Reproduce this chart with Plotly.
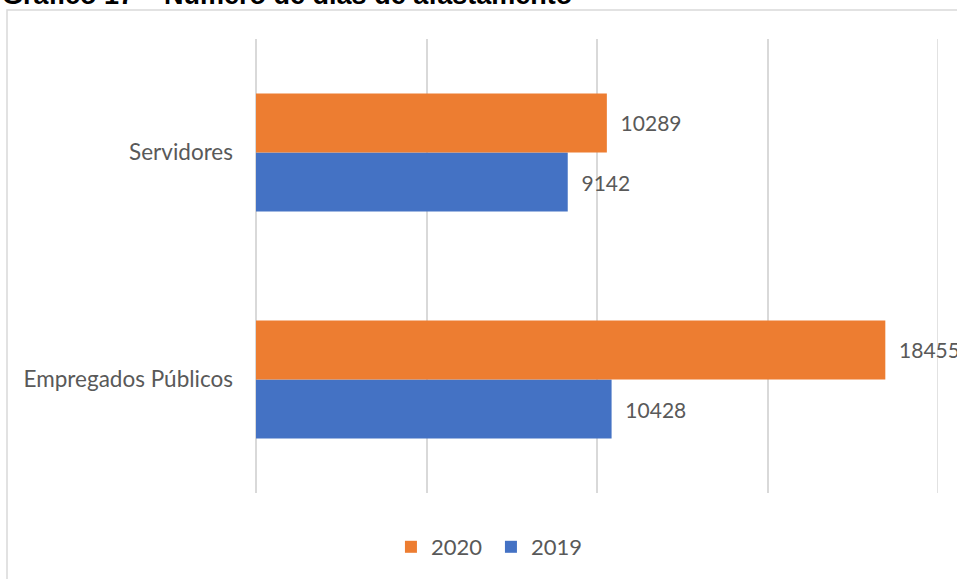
import plotly.graph_objects as go

# Dados: número de dias de afastamento por categoria
categorias = ["Empregados Públicos", "Servidores"]
dias_2019 = [10428, 9142]
dias_2020 = [18455, 10289]
anos = ["2019", "2020"]
cores = {"2019": "#4472C4", "2020": "#ED7D31"}
eixo_max = 20000
passo = 5000

W, H = 957, 579
FONT = "Lato, 'Open Sans', sans-serif"
GRAY_TXT = "#595959"
GRID = "#D9D9D9"
PAD = "\u00a0\u00a0"  # folga entre a barra e o rótulo

fig = go.Figure()
for ano, valores in zip(anos, [dias_2019, dias_2020]):
    fig.add_trace(go.Bar(
        y=categorias,
        x=valores,
        name=ano,
        orientation="h",
        marker=dict(color=cores[ano], line=dict(width=0)),
        text=[f"{PAD}{v}" for v in valores],
        textposition="outside",
        textfont=dict(family=FONT, size=21, color=GRAY_TXT),
        cliponaxis=False,
        constraintext="none",
    ))

# Linha de grade no limite do eixo
fig.add_shape(type="line", xref="x", yref="paper", x0=eixo_max, x1=eixo_max,
              y0=0, y1=1, line=dict(color=GRID, width=1.5), layer="below")

# Moldura do gráfico
fig.add_shape(type="rect", xref="paper", yref="paper",
              x0=(7 - 256) / (938 - 256), x1=1.2,
              y0=-0.5, y1=(493 - 10) / (493 - 39),
              line=dict(color=GRID, width=1.5), layer="below")

# Título (parcialmente acima da borda da página)
fig.add_annotation(text="<b>Gráfico 17 – Número de dias de afastamento</b>",
                   xref="paper", yref="paper", x=(0 - 256) / (938 - 256),
                   y=(493 - 12) / (493 - 39), xanchor="left", yanchor="bottom",
                   showarrow=False,
                   font=dict(family="Liberation Sans, Arial", size=27, color="#000000"))

fig.update_layout(
    width=W, height=H,
    margin=dict(l=256, r=19, t=39, b=86),
    paper_bgcolor="white", plot_bgcolor="white",
    barmode="group", bargap=0.48, bargroupgap=0,
    font=dict(family=FONT, color=GRAY_TXT),
    showlegend=True,
    legend=dict(orientation="h", traceorder="reversed",
                xref="container", x=0.513, xanchor="center",
                yref="container", y=(579 - 547) / 579, yanchor="middle",
                font=dict(family=FONT, size=22, color=GRAY_TXT),
                itemwidth=30, itemsizing="constant",
                entrywidth=55, entrywidthmode="pixels"),
    xaxis=dict(range=[0, eixo_max], dtick=passo, showticklabels=False,
               showgrid=True, gridcolor=GRID, gridwidth=1.5,
               zeroline=True, zerolinecolor=GRID, zerolinewidth=1.5,
               showline=False, ticks="", fixedrange=True),
    yaxis=dict(type="category", categoryorder="array", categoryarray=categorias,
               showgrid=False, zeroline=False, showline=False, ticks="",
               ticklabelstandoff=22,
               tickfont=dict(family=FONT, size=22.5, color=GRAY_TXT)),
)

fig.write_html("out.html")
